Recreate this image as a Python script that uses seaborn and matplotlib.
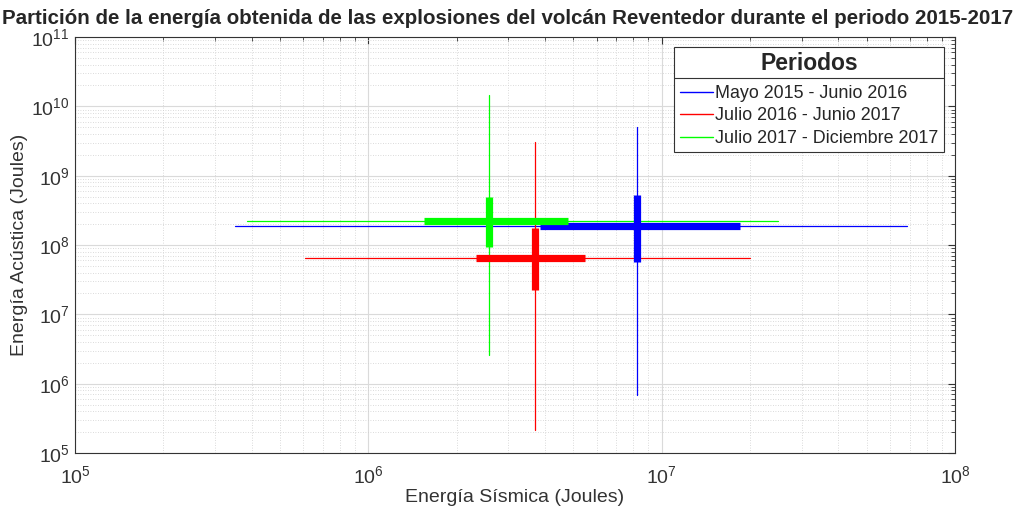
import numpy as np
import pandas as pd
import matplotlib
matplotlib.use("Agg")
import matplotlib.pyplot as plt
import seaborn as sns
from matplotlib import font_manager
from matplotlib.ticker import LogLocator, LogFormatterMathtext, NullFormatter
from matplotlib.lines import Line2D

# ---- data ----
periods = ["Mayo 2015 - Junio 2016", "Julio 2016 - Junio 2017", "Julio 2017 - Diciembre 2017"]
colors = ["#0000ff", "#ff0000", "#00ff00"]
# seismic energy: median, full range (min,max), inner range (low,high)
seis_med = [8.24e6, 3.70e6, 2.58e6]
seis_min = [3.51e5, 6.08e5, 3.86e5]
seis_max = [6.86e7, 2.00e7, 2.49e7]
seis_lo = [3.85e6, 2.33e6, 1.55e6]
seis_hi = [1.85e7, 5.48e6, 4.80e6]
# acoustic energy
acu_med = [1.88e8, 6.5e7, 2.22e8]
acu_min = [6.9e5, 2.15e5, 2.59e6]
acu_max = [5.0e9, 3.06e9, 1.46e10]
acu_lo = [5.7e7, 2.24e7, 9.35e7]
acu_hi = [5.26e8, 1.76e8, 4.92e8]

sns.set_theme(style="white")
avail = {f.name for f in font_manager.fontManager.ttflist}
base = "Liberation Sans" if "Liberation Sans" in avail else "DejaVu Sans"
narrow = "Liberation Sans Narrow" if "Liberation Sans Narrow" in avail else base
plt.rcParams["font.family"] = [base, "DejaVu Sans"]
plt.rcParams["mathtext.fontset"] = "custom"
plt.rcParams["mathtext.rm"] = base
plt.rcParams["mathtext.it"] = base
plt.rcParams["mathtext.bf"] = base

fig = plt.figure(figsize=(10.16, 5.08), dpi=100)
ax = fig.add_axes([75/1016, 55/508, 880/1016, 416/508])
ax.set_xscale("log")
ax.set_yscale("log")

thin = 0.9
thick = 5.2
for i in range(3):
    c = colors[i]
    # thin full-range lines
    sns.lineplot(x=[seis_min[i], seis_max[i]], y=[acu_med[i], acu_med[i]], ax=ax,
                 color=c, lw=thin, sort=False, estimator=None, zorder=3)
    sns.lineplot(x=[seis_med[i], seis_med[i]], y=[acu_min[i], acu_max[i]], ax=ax,
                 color=c, lw=thin, sort=False, estimator=None, zorder=3)
for i in range(3):
    c = colors[i]
    sns.lineplot(x=[seis_lo[i], seis_hi[i]], y=[acu_med[i], acu_med[i]], ax=ax,
                 color=c, lw=thick, sort=False, estimator=None, zorder=4,
                 solid_capstyle="butt")
    sns.lineplot(x=[seis_med[i], seis_med[i]], y=[acu_lo[i], acu_hi[i]], ax=ax,
                 color=c, lw=thick, sort=False, estimator=None, zorder=4,
                 solid_capstyle="butt")

ax.set_xlim(1e5, 1e8)
ax.set_ylim(1e5, 1e11)
ax.xaxis.set_major_locator(LogLocator(base=10, numticks=10))
ax.yaxis.set_major_locator(LogLocator(base=10, numticks=10))
ax.xaxis.set_minor_locator(LogLocator(base=10, subs=np.arange(2, 10), numticks=20))
ax.yaxis.set_minor_locator(LogLocator(base=10, subs=np.arange(2, 10), numticks=20))
ax.xaxis.set_major_formatter(LogFormatterMathtext())
ax.yaxis.set_major_formatter(LogFormatterMathtext())
ax.xaxis.set_minor_formatter(NullFormatter())
ax.yaxis.set_minor_formatter(NullFormatter())
ax.xaxis.get_offset_text().set_visible(False)
ax.yaxis.get_offset_text().set_visible(False)

ax.grid(True, which="major", color="#dadada", lw=0.8, ls="-", zorder=0)
ax.grid(True, which="minor", color="#cfcfcf", lw=0.6, ls=(0, (1, 2)), zorder=0)
ax.set_axisbelow(True)
ax.tick_params(which="both", direction="in", top=True, right=True, color="#333333",
               labelsize=14, labelcolor="#333333")
ax.tick_params(which="major", length=5, width=0.8)
ax.tick_params(which="minor", length=3, width=0.6)
ax.tick_params(axis="x", pad=9)
ax.tick_params(axis="y", pad=4)
for s in ax.spines.values():
    s.set_color("#333333")
    s.set_linewidth(0.8)

ax.set_xlabel("Energía Sísmica (Joules)", fontsize=14, color="#333333", labelpad=1)
ax.set_ylabel("Energía Acústica (Joules)", fontsize=14, color="#333333", labelpad=2)
fig.text(0.5, 1 - 18/508, "Partición de la energía obtenida de las explosiones del volcán Reventedor durante el periodo 2015-2017",
         ha="center", va="center", fontsize=14.8, fontweight="bold", family=[narrow, base])

handles = [Line2D([0], [0], color=c, lw=1.0) for c in colors]
leg = ax.legend(handles, periods, loc="upper right", bbox_to_anchor=(944/1016, 1 - 47/508),
                bbox_transform=fig.transFigure, title="Periodos", fontsize=12.9,
                title_fontproperties={"size": 16.5, "weight": "bold"},
                frameon=True, fancybox=False, edgecolor="#333333", framealpha=1,
                borderpad=0.3, handlelength=1.85, handletextpad=0.15, labelspacing=0.3,
                borderaxespad=0)
leg.get_frame().set_linewidth(0.8)
leg._legend_box.sep = 7
# separator line under the legend title
fig.canvas.draw()
bb = leg.get_window_extent().transformed(fig.transFigure.inverted())
tb = leg.get_title().get_window_extent().transformed(fig.transFigure.inverted())
ysep = tb.y0 - 3/508
fig.add_artist(Line2D([bb.x0, bb.x1], [ysep, ysep], color="#333333", lw=0.8,
                      transform=fig.transFigure, zorder=10))

fig.savefig("out.png", dpi=100)
